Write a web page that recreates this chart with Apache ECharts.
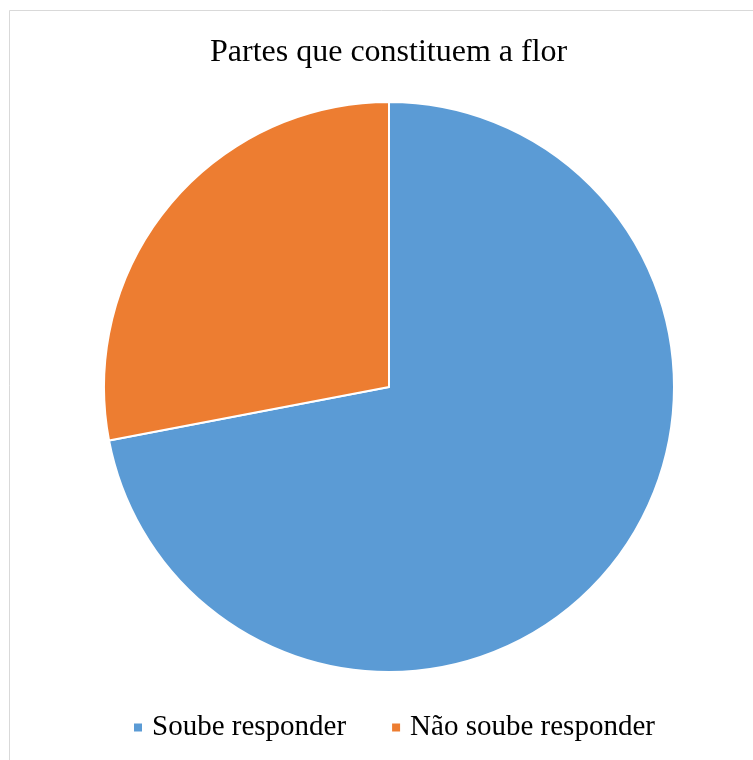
<!DOCTYPE html>
<html>
<head>
<meta charset="utf-8">
<script src="https://cdn.jsdelivr.net/npm/echarts@6/dist/echarts.min.js"></script>
<style>
html,body{margin:0;padding:0;background:#fff;}
#c{width:753px;height:760px;}
</style>
</head>
<body>
<div id="c"></div>
<script>
const titleText = 'Partes que constituem a flor';
const categories = ['Soube responder', 'Não soube responder'];
const values = [72, 28];
const colors = ['#5b9bd5', '#ed7d31'];

const chart = echarts.init(document.getElementById('c'), null, {renderer: 'canvas'});
chart.setOption({
  backgroundColor: '#ffffff',
  animation: false,
  title: {
    text: titleText,
    left: 205,
    top: 32,
    textStyle: {fontFamily: 'Liberation Serif', fontSize: 32, fontWeight: 'normal', color: '#000'}
  },
  legend: {
    bottom: 13,
    left: 127,
    icon: 'rect',
    itemWidth: 10,
    itemHeight: 10,
    itemGap: 44,
    textStyle: {fontFamily: 'Liberation Serif', fontSize: 29, color: '#000', padding: [0, 0, 0, 4]},
    data: categories
  },
  graphic: [{
    type: 'rect',
    shape: {x: 9.5, y: 10.5, width: 800, height: 800},
    style: {fill: 'none', stroke: '#d9d9d9', lineWidth: 1},
    silent: true
  }],
  color: colors,
  series: [{
    type: 'pie',
    center: [389, 387],
    radius: [0, 285],
    startAngle: 90,
    clockwise: true,
    label: {show: false},
    labelLine: {show: false},
    itemStyle: {borderColor: '#ffffff', borderWidth: 2},
    data: categories.map((n, i) => ({name: n, value: values[i]}))
  }]
});
</script>
</body>
</html>
